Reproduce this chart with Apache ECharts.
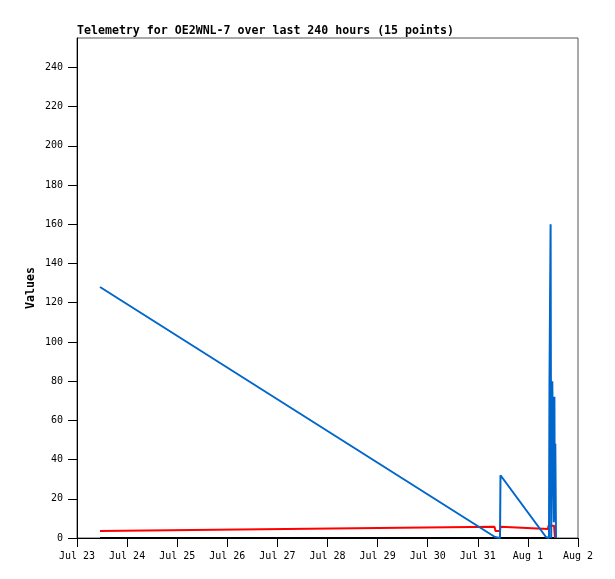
<!DOCTYPE html>
<html>
<head>
<meta charset="utf-8">
<script src="https://cdn.jsdelivr.net/npm/echarts@6/dist/echarts.min.js"></script>
<style>html,body{margin:0;padding:0;background:#fff}#c{width:615px;height:579px}</style>
</head>
<body>
<div id="c"></div>
<script>
// x values are days since Jul 23 00:00
const xTickLabels = ['Jul 23','Jul 24','Jul 25','Jul 26','Jul 27','Jul 28','Jul 29','Jul 30','Jul 31','Aug 1','Aug 2'];
const yTicks = [0,20,40,60,80,100,120,140,160,180,200,220,240];

const blueDays   = [0.459, 8.343, 8.443, 8.453, 9.361, 9.421, 9.431, 9.445, 9.453, 9.465, 9.487, 9.511, 9.517, 9.529, 9.537, 9.547, 9.561];
const blueValues = [128,   0.5,   0,     32,    0.5,   0,     80,    80,    160,   0,     80,    80,    8,     72,    10,    48,    0];

const redDays   = [0.459, 8.333, 8.353, 8.443, 8.453, 9.401, 9.411, 9.521, 9.541];
const redValues = [3.6,   5.8,   3.6,   3.6,   5.8,   4.6,   6.3,   6.3,   0];

const blackDays   = [0.459, 9.561];
const blackValues = [0, 0];

const pairs = (xs, ys) => xs.map((x, i) => [x, ys[i]]);
const mono = 'DejaVu Sans Mono';

const chart = echarts.init(document.getElementById('c'), null, {renderer: 'canvas'});
chart.setOption({
  animation: false,
  title: {
    text: 'Telemetry for OE2WNL-7 over last 240 hours (15 points)',
    left: 77, top: 25, padding: 0,
    textStyle: {fontFamily: mono, fontSize: 11.6, fontWeight: 'bold', color: '#000'}
  },
  grid: {left: 77, right: 37, top: 38, bottom: 41, show: true, borderColor: '#555', borderWidth: 1, backgroundColor: 'transparent'},
  xAxis: {
    type: 'value', min: 0, max: 10, interval: 1,
    axisLine: {show: true, lineStyle: {color: '#000', width: 1}},
    axisTick: {show: true, length: 9, lineStyle: {color: '#000'}},
    axisLabel: {
      margin: 13, fontFamily: mono, fontSize: 10, color: '#000',
      formatter: v => xTickLabels[Math.round(v)] || ''
    },
    splitLine: {show: false}
  },
  yAxis: {
    type: 'value', min: 0, max: 255,
    name: 'Values', nameLocation: 'middle', nameRotate: 90, nameGap: 40, nameMoveOverlap: false,
    nameTextStyle: {fontFamily: mono, fontSize: 11.6, fontWeight: 'bold', color: '#000'},
    axisLine: {show: true, lineStyle: {color: '#000', width: 1}},
    axisTick: {show: true, length: 9, customValues: yTicks, lineStyle: {color: '#000'}},
    axisLabel: {margin: 14, fontFamily: mono, fontSize: 10, color: '#000', customValues: yTicks},
    splitLine: {show: false}
  },
  series: [
    {type: 'line', data: pairs(blackDays, blackValues), showSymbol: false, lineStyle: {color: '#000', width: 2}, itemStyle: {color: '#000'}, z: 1},
    {type: 'line', data: pairs(redDays, redValues), showSymbol: false, lineStyle: {color: '#ff0000', width: 2}, itemStyle: {color: '#ff0000'}, z: 2},
    {type: 'line', data: pairs(blueDays, blueValues), showSymbol: false, lineStyle: {color: '#0066cc', width: 2}, itemStyle: {color: '#0066cc'}, z: 3}
  ]
});
</script>
</body>
</html>
